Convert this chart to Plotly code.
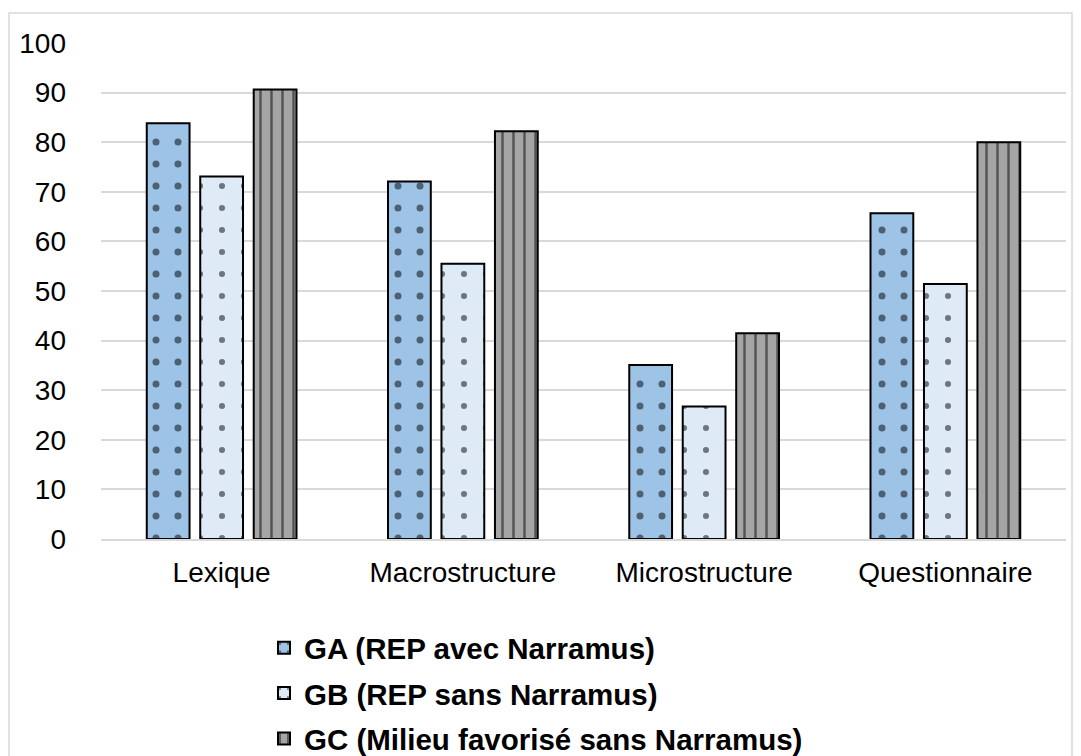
import plotly.graph_objects as go

categories = ["Lexique", "Macrostructure", "Microstructure", "Questionnaire"]
series_names = ["GA (REP avec Narramus)", "GB (REP sans Narramus)", "GC (Milieu favorisé sans Narramus)"]
ga_values = [83.8, 72.1, 35.1, 65.7]
gb_values = [73.1, 55.5, 26.7, 51.4]
gc_values = [90.6, 82.2, 41.5, 80.0]
y_ticks = [0, 10, 20, 30, 40, 50, 60, 70, 80, 90, 100]

fills = ["#9DC3E6", "#DEEBF7", "#A5A5A5"]
shapes = [".", ".", "|"]
pat_sizes = [22, 22, 11]
pat_solid = [0.08, 0.06, 0.22]
values = [ga_values, gb_values, gc_values]

fig = go.Figure()
for i, (name, vals) in enumerate(zip(series_names, values)):
    fig.add_trace(go.Bar(
        x=categories, y=vals, name="<b>" + name + "</b>",
        legendgroup=f"g{i}",
        marker=dict(
            color=fills[i],
            line=dict(color="black", width=2),
            pattern=dict(shape=shapes[i], fgcolor="black", bgcolor=fills[i],
                         size=pat_sizes[i], solidity=pat_solid[i],
                         fillmode="overlay"),
        ),
    ))

# page body has an 8px margin; figure coordinates = screen coordinates - 8
OFF = 8
W, H = 1081 - 2 * OFF, 756 - OFF
L = 101 - OFF
T = 43 - OFF
R = W - (1066 - OFF)
B = H - (539 - OFF)
pw, ph = W - L - R, H - T - B

def px_x(x):
    return (x - OFF - L) / pw

def px_y(y):
    return (H - B - (y - OFF)) / ph

fig.update_layout(
    width=W, height=H,
    margin=dict(l=L, r=R, t=T, b=B, autoexpand=False),
    paper_bgcolor="white", plot_bgcolor="white",
    font=dict(family="Liberation Sans, Arial, sans-serif", size=28, color="black"),
    barmode="group", bargap=0.335, bargroupgap=0.2,
    showlegend=True,
    legend=dict(
        xref="container", yref="container",
        x=(256 - OFF + 8) / W, y=1 - (622 - OFF) / H, xanchor="left", yanchor="top",
        orientation="v", tracegroupgap=4,
        font=dict(size=29.5, family="Liberation Sans, Arial, sans-serif", color="black"),
        itemwidth=30,
    ),
    xaxis=dict(showgrid=False, showline=True, linecolor="#D9D9D9", linewidth=1.5,
               ticks="", tickfont=dict(size=28), ticklabelstandoff=8, automargin=False),
    yaxis=dict(range=[0, 100], tickvals=y_ticks, showgrid=True, gridcolor="#D9D9D9",
               gridwidth=1.5, zeroline=False, showline=False, ticks="",
               tickfont=dict(size=28), ticklabelstandoff=34, automargin=False),
    shapes=[dict(type="rect", xref="paper", yref="paper",
                 x0=px_x(9), x1=px_x(1072), y0=px_y(770), y1=px_y(13),
                 line=dict(color="#D9D9D9", width=1.5), fillcolor="rgba(0,0,0,0)", layer="below")],
)

fig.write_html("out.html")
